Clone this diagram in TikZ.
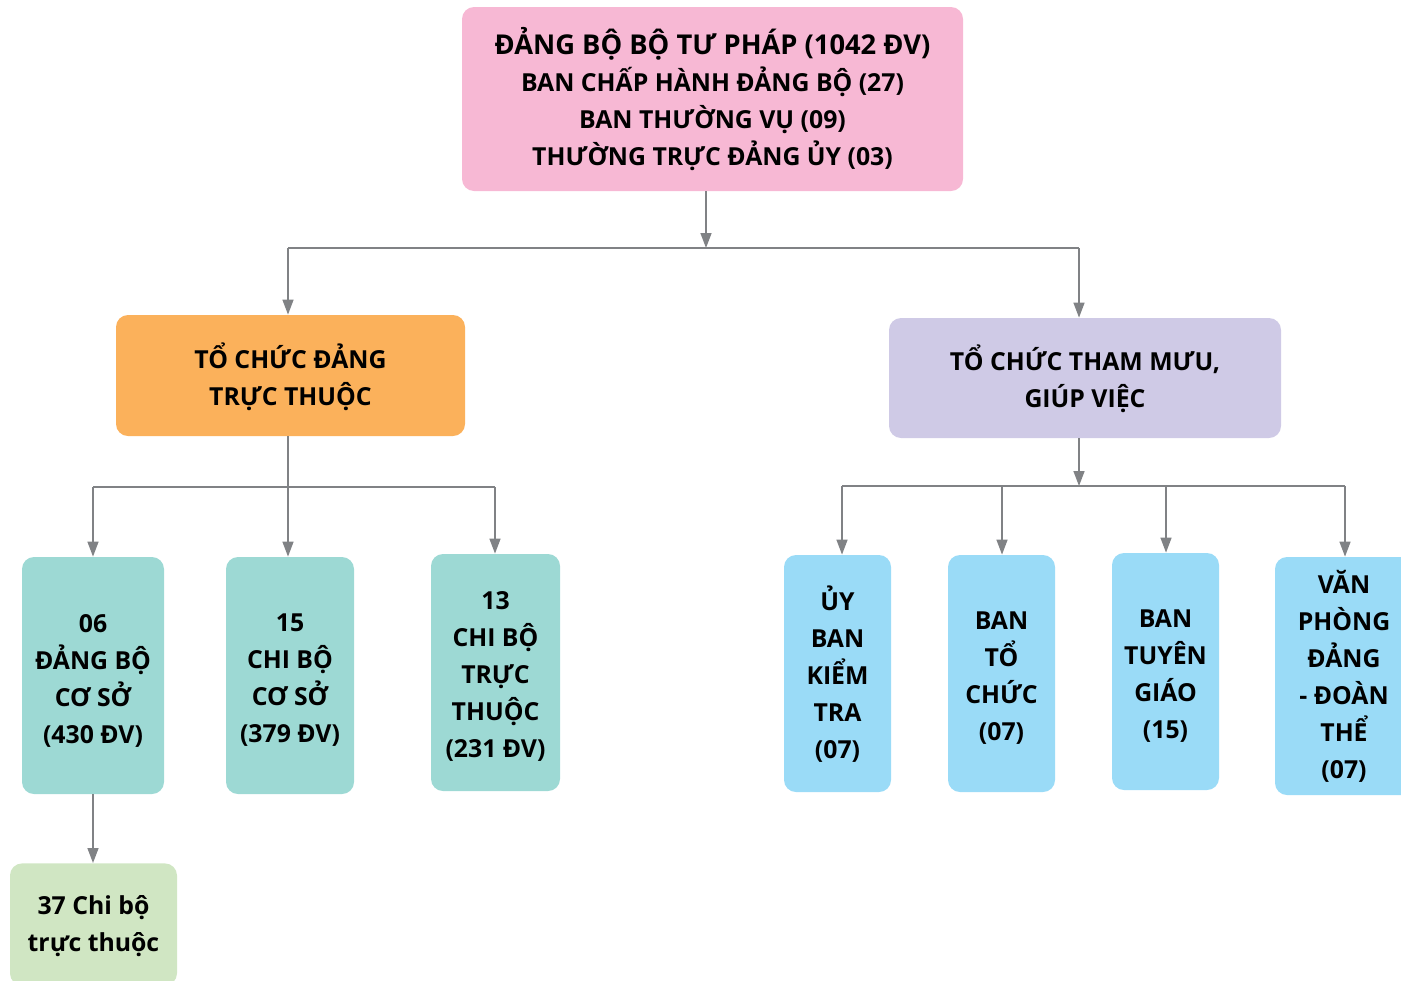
\documentclass[tikz,border=0pt]{standalone}
\usepackage{fontspec}
\setmainfont{Open Sans}
\usetikzlibrary{arrows.meta}
\definecolor{cpink}{HTML}{F7B8D4}
\definecolor{corange}{HTML}{FBB15B}
\definecolor{cpurple}{HTML}{CFCAE6}
\definecolor{cteal}{HTML}{9DD9D4}
\definecolor{cgreen}{HTML}{D0E6C3}
\definecolor{cblue}{HTML}{9ADBF7}
\definecolor{cline}{HTML}{808285}
\tikzset{
  box/.style={rounded corners=6pt, inner sep=0pt},
  txt/.style={inner sep=0pt, align=center, text=black,
    font=\bfseries\fontsize{12.4}{18.5}\selectfont},
  conn/.style={draw=cline, line width=0.75pt},
  arr/.style={conn, -{Triangle[length=7.5pt,width=5.5pt]}}
}
\begin{document}
\begin{tikzpicture}[x=0.5pt,y=-0.5pt]
\useasboundingbox (0,0) rectangle (1401,980);
% nodes
\node[box, fill=cpink, minimum width=250.5pt, minimum height=92pt,
  label={[txt, yshift=-0.25pt]center:{\fontsize{13.65}{18.5}\selectfont ĐẢNG BỘ BỘ TƯ PHÁP (1042 ĐV)}\\BAN CHẤP HÀNH ĐẢNG BỘ (27)\\BAN THƯỜNG VỤ (09)\\THƯỜNG TRỰC ĐẢNG ỦY (03)}] (top) at (712.5,99) {};
\node[box, fill=corange, minimum width=174.5pt, minimum height=60.5pt,
  label={[txt, yshift=-0.5pt]center:TỔ CHỨC ĐẢNG\\TRỰC THUỘC}] (org) at (290.5,375.5) {};
\node[box, fill=cpurple, minimum width=196pt, minimum height=60pt,
  label={[txt, yshift=-0.5pt]center:TỔ CHỨC THAM MƯU,\\GIÚP VIỆC}] (staff) at (1085,378) {};
\node[box, fill=cteal, minimum width=71pt, minimum height=118.5pt,
  label={[txt, yshift=-2.5pt]center:06\\ĐẢNG BỘ\\CƠ SỞ\\(430 ĐV)}] (t1) at (93,675.5) {};
\node[box, fill=cteal, minimum width=64pt, minimum height=118.5pt,
  label={[txt, yshift=-2.5pt]center:15\\CHI BỘ\\CƠ SỞ\\(379 ĐV)}] (t2) at (290,675.5) {};
\node[box, fill=cteal, minimum width=64.5pt, minimum height=118.5pt,
  label={[txt, yshift=-2pt]center:13\\CHI BỘ\\TRỰC\\THUỘC\\(231 ĐV)}] (t3) at (495.5,672.5) {};
\node[box, fill=cgreen, minimum width=83.5pt, minimum height=61pt, anchor=north,
  label={[txt, yshift=-0.75pt]center:37 Chi bộ\\trực thuộc}] (g1) at (93.5,863) {};
\node[box, fill=cblue, minimum width=53.5pt, minimum height=118.5pt,
  label={[txt, yshift=-0.5pt]center:ỦY\\BAN\\KIỂM\\TRA\\(07)}] (u1) at (837.5,673.5) {};
\node[box, fill=cblue, minimum width=53.5pt, minimum height=118.5pt,
  label={[txt, yshift=-2.25pt]center:BAN\\TỔ\\CHỨC\\(07)}] (u2) at (1001.5,673.5) {};
\node[box, fill=cblue, minimum width=53.5pt, minimum height=118.5pt,
  label={[txt, yshift=-2.25pt]center:BAN\\TUYÊN\\GIÁO\\(15)}] (u3) at (1165.5,671.5) {};
\node[box, fill=cblue, minimum width=69pt, minimum height=119pt,
  label={[txt]center:VĂN\\PHÒNG\\ĐẢNG\\- ĐOÀN\\THỂ\\(07)}] (u4) at (1344,676) {};
% bus coordinates
\coordinate (b0) at (706,248);
\coordinate (bl) at (288,248);
\coordinate (br) at (1079,248);
\coordinate (c0) at (288,487);
\coordinate (cl) at (93,487);
\coordinate (cr) at (495,487);
\coordinate (d0) at (1079,486);
\coordinate (dl) at (842,486);
\coordinate (d2) at (1002,486);
\coordinate (d3) at (1166,486);
\coordinate (dr) at (1345,486);
% connectors
\draw[arr] (top.south -| b0) -- (b0);
\draw[conn] (bl) -- (br);
\draw[arr] (bl) -- (bl |- org.north);
\draw[arr] (br) -- (br |- staff.north);
\draw[arr] (org.south -| c0) -- (c0 |- t2.north);
\draw[conn] (cl) -- (cr);
\draw[arr] (cl) -- (cl |- t1.north);
\draw[arr] (cr) -- (cr |- t3.north);
\draw[arr] (staff.south -| d0) -- (d0);
\draw[conn] (dl) -- (dr);
\draw[arr] (dl) -- (dl |- u1.north);
\draw[arr] (d2) -- (d2 |- u2.north);
\draw[arr] (d3) -- (d3 |- u3.north);
\draw[arr] (dr) -- (dr |- u4.north);
\draw[arr] (t1.south) -- (t1.south |- g1.north);
\end{tikzpicture}
\end{document}
